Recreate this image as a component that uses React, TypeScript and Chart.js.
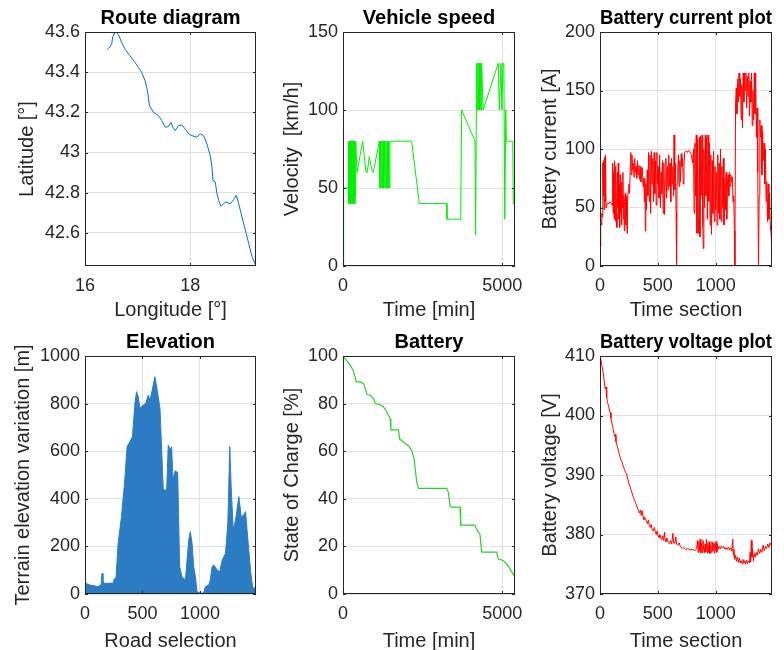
import React, { useEffect, useRef } from 'react';
import { Chart, registerables } from 'chart.js';

Chart.register(...registerables);

const FONT = "'Liberation Sans', Arial, Helvetica, sans-serif";
const AXIS_COLOR = '#262626';
const GRID_COLOR = '#e1e1e1';

// ---------- Route diagram ----------
const routeLon = [16.425, 16.476, 16.508, 16.527, 16.571, 16.59, 16.635, 16.698, 16.762, 16.857, 16.952, 17.016, 17.079, 17.143, 17.187, 17.225, 17.302, 17.397, 17.46, 17.524, 17.587, 17.632, 17.67, 17.714, 17.778, 17.841, 17.905, 17.968, 18.032, 18.127, 18.19, 18.254, 18.317, 18.381, 18.413, 18.432, 18.476, 18.508, 18.54, 18.584, 18.667, 18.762, 18.825, 18.876, 18.921, 18.984, 19.048, 19.111, 19.175, 19.25];
const routeLat = [43.514, 43.526, 43.542, 43.575, 43.598, 43.6, 43.588, 43.547, 43.514, 43.481, 43.448, 43.423, 43.398, 43.357, 43.307, 43.233, 43.2, 43.183, 43.159, 43.126, 43.129, 43.15, 43.126, 43.109, 43.134, 43.137, 43.117, 43.093, 43.084, 43.076, 43.093, 43.084, 43.043, 42.985, 42.927, 42.861, 42.853, 42.795, 42.762, 42.732, 42.754, 42.745, 42.765, 42.787, 42.745, 42.679, 42.613, 42.547, 42.481, 42.435];
const routeLonTicks = [16, 18];
const routeLatTicks = [42.6, 42.8, 43, 43.2, 43.4, 43.6];

// ---------- Vehicle speed ----------
const speedTime = [0, 20, 160, 175, 185, 195, 205, 215, 225, 235, 245, 255, 265, 280, 290, 305, 315, 330, 340, 355, 370, 377, 400, 440, 470, 618, 722, 760, 826, 900, 951, 1140, 1160, 1180, 1200, 1220, 1240, 1260, 1280, 1300, 1320, 1345, 1365, 1390, 1410, 1435, 1455, 1475, 2155, 2396, 3255, 3265, 3694, 3725, 4143, 4164, 4195, 4215, 4235, 4255, 4275, 4295, 4315, 4335, 4353, 4400, 4875, 4907, 4960, 4990, 5020, 5050, 5080, 5110, 5130, 5330, 5345, 5400];
const speedValues = [0, 50, 50, 80, 40, 80, 40, 80, 45, 80, 40, 80, 40, 80, 40, 80, 40, 80, 40, 80, 40, 45, 80, 60, 60, 80, 60, 60, 70, 62, 60, 80, 50, 80, 50, 80, 50, 80, 50, 80, 50, 80, 50, 80, 50, 80, 50, 80, 80, 40, 40, 30, 30, 100, 80, 20, 130, 100, 130, 100, 130, 100, 130, 100, 130, 100, 130, 100, 130, 100, 130, 130, 30, 100, 80, 80, 40, 40];
const timeTicks = [0, 5000];
const speedTicks = [0, 50, 100, 150];

// ---------- Battery current ----------
const currentSection = [
  0, 4, 8, 12, 16, 20, 24, 28, 32, 36,
  40, 44, 48, 52, 58, 66, 76, 86, 96, 104,
  110, 114, 118, 122, 126, 130, 134, 138, 142, 146,
  150, 154, 158, 162, 166, 170, 174, 178, 182, 186,
  190, 194, 198, 202, 206, 210, 214, 218, 222, 226,
  230, 234, 238, 244, 250, 256, 262, 266, 270, 276,
  282, 288, 294, 300, 306, 312, 318, 324, 330, 336,
  342, 348, 354, 360, 366, 372, 378, 384, 388, 392,
  396, 402, 408, 414, 420, 426, 432, 438, 444, 450,
  456, 462, 468, 474, 480, 486, 492, 498, 504, 510,
  516, 522, 528, 534, 540, 546, 552, 558, 564, 570,
  576, 582, 588, 594, 600, 606, 612, 618, 624, 630,
  636, 640, 646, 652, 658, 662, 666, 672, 678, 684,
  690, 696, 702, 708, 714, 720, 726, 732, 740, 748,
  756, 764, 772, 780, 790, 800, 808, 814, 820, 826,
  832, 838, 842, 848, 853, 858, 864, 870, 876, 882,
  888, 893, 898, 904, 910, 916, 922, 928, 934, 940,
  946, 952, 958, 964, 970, 976, 982, 988, 994, 1000,
  1006, 1012, 1018, 1024, 1030, 1036, 1042, 1048, 1054, 1060,
  1066, 1072, 1078, 1084, 1090, 1096, 1102, 1108, 1114, 1120,
  1126, 1132, 1138, 1144, 1150, 1156, 1162, 1166, 1172, 1178,
  1184, 1190, 1196, 1202, 1208, 1214, 1220, 1226, 1232, 1238,
  1244, 1250, 1256, 1262, 1268, 1274, 1280, 1286, 1292, 1298,
  1304, 1310, 1316, 1322, 1328, 1334, 1340, 1346, 1352, 1358,
  1364, 1370, 1376, 1382, 1388, 1394, 1400, 1406, 1412, 1418,
  1424, 1430, 1436, 1442, 1448, 1454, 1460, 1466, 1472, 1478,
  1484,
];
const currentValues = [
  40, 17, 38, 35, 45, 42, 88, 60, 90, 48,
  93, 55, 95, 50, 52, 54, 53, 55, 54, 52,
  88, 45, 80, 40, 90, 55, 38, 85, 45, 33,
  80, 50, 88, 40, 70, 33, 78, 45, 62, 35,
  72, 50, 80, 40, 60, 30, 55, 62, 35, 60,
  45, 28, 55, 65, 70, 62, 85, 97, 78, 95,
  82, 88, 76, 92, 80, 85, 75, 90, 78, 86,
  74, 85, 72, 80, 84, 68, 75, 55, 75, 30,
  70, 48, 82, 60, 97, 55, 95, 45, 98, 70,
  92, 55, 97, 62, 90, 52, 97, 70, 85, 58,
  95, 50, 80, 62, 90, 45, 88, 44, 75, 92,
  58, 85, 65, 95, 68, 88, 55, 92, 70, 85,
  60, 112, 65, 88, 45, 0, 70, 82, 95, 68,
  90, 72, 96, 85, 92, 70, 85, 97, 98, 98,
  97, 99, 98, 97, 95, 88, 100, 45, 105, 60,
  112, 28, 108, 40, 28, 110, 25, 111, 60, 112,
  35, 15, 100, 50, 112, 60, 110, 40, 112, 55,
  105, 35, 95, 27, 90, 45, 98, 38, 85, 48,
  80, 35, 95, 45, 88, 40, 100, 38, 85, 50,
  92, 35, 75, 48, 80, 40, 70, 78, 60, 80,
  68, 78, 72, 76, 55, 60, 30, 0, 140, 152,
  130, 160, 140, 165, 145, 160, 125, 155, 118, 165,
  140, 165, 150, 165, 135, 162, 145, 165, 128, 158,
  140, 165, 120, 150, 125, 165, 130, 165, 110, 135,
  80, 0, 60, 125, 110, 120, 78, 115, 90, 105,
  70, 100, 55, 72, 38, 70, 40, 62, 35, 30,
  17,
];
const sectionTicks = [0, 500, 1000];
const currentTicks = [0, 50, 100, 150, 200];

// ---------- Elevation ----------
const elevSection = [0, 6, 40, 80, 113, 140, 148, 156, 163, 200, 244, 250, 270, 288, 317, 346, 366, 390, 413, 434, 448, 463, 477, 506, 529, 550, 564, 579, 593, 608, 628, 652, 681, 710, 724, 742, 753, 765, 785, 806, 823, 843, 873, 902, 916, 931, 945, 960, 974, 1003, 1033, 1047, 1076, 1090, 1105, 1120, 1149, 1172, 1193, 1222, 1242, 1259, 1271, 1289, 1309, 1338, 1358, 1382, 1396, 1419, 1442, 1457, 1472, 1487];
const elevValues = [40, 45, 38, 35, 30, 40, 87, 60, 45, 45, 46, 60, 70, 213, 325, 479, 619, 640, 661, 801, 850, 829, 780, 794, 801, 836, 815, 843, 878, 913, 857, 780, 437, 437, 626, 605, 619, 483, 518, 510, 115, 73, 59, 227, 262, 213, 115, 73, 10, 3, 5, 31, 38, 60, 115, 122, 101, 94, 143, 171, 297, 619, 451, 269, 311, 409, 325, 332, 346, 213, 87, 31, 17, 45];
const elevTicks = [0, 200, 400, 600, 800, 1000];

// ---------- Battery SOC ----------
const socTime = [0, 104, 230, 334, 418, 543, 647, 699, 752, 856, 960, 1013, 1169, 1273, 1378, 1482, 1503, 1743, 1775, 1900, 2056, 2161, 2234, 2317, 2370, 3257, 3309, 3361, 3413, 3674, 3695, 4144, 4196, 4301, 4353, 4823, 4875, 5031, 5157, 5292, 5376];
const socValues = [99.7, 98.3, 96.2, 93.4, 89.1, 89.1, 88.4, 86.3, 83.8, 83.5, 82.1, 80.0, 79.5, 78.6, 76.4, 73.6, 69.0, 69.0, 65.2, 63.8, 62.3, 60.2, 56.7, 46.8, 44.4, 44.4, 42.6, 37.0, 36.5, 36.5, 28.9, 28.9, 27.1, 25.0, 17.6, 17.6, 14.7, 14.1, 12.3, 9.4, 7.6];
const socTicks = [0, 20, 40, 60, 80, 100];

// ---------- Battery voltage ----------
const voltSection = [
  0, 6, 15, 25, 35, 45, 52, 58, 65, 75,
  87, 95, 105, 115, 125, 132, 138, 150, 160, 170,
  180, 190, 200, 210, 220, 230, 240, 250, 260, 270,
  280, 290, 300, 310, 320, 330, 340, 350, 356, 364,
  372, 380, 390, 400, 410, 418, 426, 434, 442, 450,
  460, 470, 478, 486, 494, 502, 510, 518, 526, 534,
  542, 550, 558, 562, 570, 580, 590, 600, 610, 620,
  630, 636, 646, 656, 662, 672, 684, 696, 710, 724,
  740, 760, 780, 800, 820, 836, 842, 848, 854, 860,
  866, 872, 878, 884, 890, 896, 902, 908, 914, 920,
  926, 932, 938, 944, 950, 956, 962, 968, 974, 980,
  986, 992, 998, 1004, 1010, 1016, 1022, 1030, 1040, 1050,
  1060, 1070, 1080, 1090, 1100, 1110, 1120, 1130, 1140, 1148,
  1152, 1158, 1164, 1172, 1180, 1188, 1196, 1204, 1212, 1220,
  1228, 1236, 1244, 1252, 1260, 1268, 1276, 1284, 1292, 1298,
  1302, 1308, 1314, 1320, 1326, 1334, 1342, 1350, 1360, 1370,
  1380, 1390, 1400, 1410, 1420, 1430, 1440, 1450, 1460, 1470,
  1480, 1487,
];
const voltValues = [
  409, 409.5, 408.5, 407.5, 406, 404.5, 404.8, 403, 402.2, 401.5,
  400.5, 399.5, 398.5, 397.6, 396.5, 396.8, 395.6, 394.8, 394, 393.2,
  392.6, 392.2, 391.5, 391, 390.5, 390.2, 389.3, 388.6, 388, 387.4,
  386.8, 386.2, 385.7, 385.2, 384.6, 384.2, 383.6, 384.1, 383.2, 384,
  383, 382.5, 382.8, 382.3, 381.8, 382.4, 381.5, 381.2, 381.7, 380.9,
  380.6, 381.2, 380.4, 380, 380.6, 379.8, 379.5, 380, 379.3, 379.2,
  379.8, 379, 380.4, 379.2, 378.8, 379.4, 378.6, 378.5, 379, 378.4,
  380.2, 378.6, 378.5, 379.6, 378.4, 378.2, 378.6, 377.9, 377.7, 377.8,
  377.5, 377.6, 377.4, 377.5, 377.3, 377.6, 379, 377, 378.8, 377.2,
  379.2, 376.9, 378.5, 377, 379, 377.5, 376.9, 378.4, 377.1, 379.2,
  376.9, 378.6, 377, 378.8, 376.8, 378.2, 377, 378.8, 377.2, 378.6,
  376.9, 378.5, 377.3, 378.8, 377, 378.4, 377.5, 378, 377.6, 378.1,
  377.7, 378, 377.5, 377.8, 377.5, 377.9, 377.4, 377.8, 377.2, 379.2,
  376.5, 377.5, 375.8, 376.5, 375.5, 376.2, 375.3, 376, 375.2, 375.6,
  375.1, 375.8, 375.2, 375.6, 375, 375.7, 375.1, 375.5, 375.2, 377,
  375.4, 379, 376.2, 377.5, 375.5, 376.8, 376.2, 377, 376.5, 377.6,
  376.8, 377.5, 377, 378.2, 377.3, 378, 377.6, 378.4, 377.8, 378.6,
  378.2, 378.8,
];
const voltTicks = [370, 380, 390, 400, 410];

const zip = (xs: number[], ys: number[]) => xs.map((x, i) => ({ x, y: ys[i] }));
const fmt = (v: any) => String(Math.round(Number(v) * 1000) / 1000);

type Spec = {
  id: string;
  L: number; T: number; R: number; B: number;
  yW: number; xH: number; rightPad: number;
  title: string; xLabel: string; yLabel: string;
  xMin: number; xMax: number; yMin: number; yMax: number;
  xTicks: number[]; yTicks: number[];
  dataset: any;
};

const TITLE_H = 26;

const boxPlugin = {
  id: 'matlabBox',
  afterDatasetsDraw(chart: any) {
    const { ctx, chartArea } = chart;
    const left = Math.round(chartArea.left);
    const top = Math.round(chartArea.top);
    const right = Math.round(chartArea.right);
    const bottom = Math.round(chartArea.bottom);
    const xs = chart.scales.x;
    const ys = chart.scales.y;
    const TL = 3;
    ctx.save();
    ctx.strokeStyle = AXIS_COLOR;
    ctx.lineWidth = 1;
    ctx.beginPath();
    xs.ticks.forEach((t: any) => {
      const p = Math.round(xs.getPixelForValue(t.value)) + 0.5;
      ctx.moveTo(p, bottom);
      ctx.lineTo(p, bottom - TL);
      ctx.moveTo(p, top);
      ctx.lineTo(p, top + TL);
    });
    ys.ticks.forEach((t: any) => {
      const p = Math.round(ys.getPixelForValue(t.value)) + 0.5;
      ctx.moveTo(left, p);
      ctx.lineTo(left + TL, p);
      ctx.moveTo(right, p);
      ctx.lineTo(right - TL, p);
    });
    ctx.stroke();
    ctx.strokeRect(left + 0.5, top + 0.5, right - left - 1, bottom - top - 1);
    ctx.restore();
  },
};

function buildConfig(s: Spec): any {
  const tickFont = { family: FONT, size: 18 };
  const labelFont = { family: FONT, size: 20 };
  return {
    type: 'line',
    data: { datasets: [s.dataset] },
    plugins: [boxPlugin],
    options: {
      animation: false,
      responsive: false,
      devicePixelRatio: 1,
      layout: { padding: { left: 0, top: 0, bottom: 0, right: s.rightPad } },
      plugins: {
        legend: { display: false },
        tooltip: { enabled: false },
        title: {
          display: true,
          text: s.title,
          color: '#000000',
          fullSize: false,
          font: { family: FONT, size: 20, weight: 'bold', lineHeight: 1.2 },
          padding: { top: 0, bottom: 2 },
        },
      },
      elements: { point: { radius: 0 } },
      scales: {
        x: {
          type: 'linear',
          min: s.xMin,
          max: s.xMax,
          afterBuildTicks: (sc: any) => { sc.ticks = s.xTicks.map((v) => ({ value: v })); },
          afterFit: (sc: any) => { sc.height = s.xH; },
          grid: { color: GRID_COLOR, drawTicks: false, lineWidth: 1 },
          border: { display: false },
          ticks: { color: AXIS_COLOR, font: tickFont, padding: 9, maxRotation: 0, autoSkip: false, callback: fmt },
          title: { display: true, text: s.xLabel, color: AXIS_COLOR, font: labelFont, padding: 0 },
        },
        y: {
          type: 'linear',
          min: s.yMin,
          max: s.yMax,
          afterBuildTicks: (sc: any) => { sc.ticks = s.yTicks.map((v) => ({ value: v })); },
          afterFit: (sc: any) => { sc.width = s.yW; },
          grid: { color: GRID_COLOR, drawTicks: false, lineWidth: 1 },
          border: { display: false },
          ticks: { color: AXIS_COLOR, font: tickFont, padding: 5, autoSkip: false, callback: fmt },
          title: { display: true, text: s.yLabel, color: AXIS_COLOR, font: labelFont, padding: 0 },
        },
      },
    },
  };
}

function Panel({ spec }: { spec: Spec }) {
  const ref = useRef<HTMLCanvasElement>(null);
  const w = spec.yW + (spec.R - spec.L) + spec.rightPad;
  const h = TITLE_H + (spec.B - spec.T) + spec.xH;
  useEffect(() => {
    const chart = new Chart(ref.current as HTMLCanvasElement, buildConfig(spec));
    return () => chart.destroy();
  }, []);
  return (
    <canvas
      ref={ref}
      width={w}
      height={h}
      style={{ position: 'absolute', left: spec.L - spec.yW, top: spec.T - TITLE_H, width: w, height: h }}
    />
  );
}

const lineDs = (data: any[], color: string, width = 1) => ({
  data,
  borderColor: color,
  backgroundColor: color,
  borderWidth: width,
  pointRadius: 0,
  tension: 0,
  fill: false,
});

const specs: Spec[] = [
  {
    id: 'route', L: 85, T: 32, R: 256, B: 266, yW: 70, xH: 56, rightPad: 20,
    title: 'Route diagram', xLabel: 'Longitude [°]', yLabel: 'Latitude [°]',
    xMin: 16, xMax: 19.25, yMin: 42.435, yMax: 43.6,
    xTicks: routeLonTicks, yTicks: routeLatTicks,
    dataset: lineDs(zip(routeLon, routeLat), '#0072BD', 1),
  },
  {
    id: 'speed', L: 343, T: 32, R: 515, B: 266, yW: 63, xH: 56, rightPad: 20,
    title: 'Vehicle speed', xLabel: 'Time [min]', yLabel: 'Velocity  [km/h]',
    xMin: 0, xMax: 5400, yMin: 0, yMax: 150,
    xTicks: timeTicks, yTicks: speedTicks,
    dataset: lineDs(zip(speedTime, speedValues), '#00ee00', 1),
  },
  {
    id: 'current', L: 600, T: 32, R: 772, B: 266, yW: 62, xH: 56, rightPad: 12,
    title: 'Battery current plot', xLabel: 'Time section', yLabel: 'Battery current [A]',
    xMin: 0, xMax: 1487, yMin: 0, yMax: 200,
    xTicks: sectionTicks, yTicks: currentTicks,
    dataset: lineDs(zip(currentSection, currentValues), '#ff0000', 1),
  },
  {
    id: 'elev', L: 85, T: 356, R: 256, B: 594, yW: 74, xH: 59, rightPad: 20,
    title: 'Elevation', xLabel: 'Road selection', yLabel: 'Terrain elevation variation [m]',
    xMin: 0, xMax: 1487, yMin: 0, yMax: 1000,
    xTicks: sectionTicks, yTicks: elevTicks,
    dataset: {
      data: zip(elevSection, elevValues),
      borderColor: '#2b7cc2',
      backgroundColor: '#2b7cc2',
      borderWidth: 1,
      pointRadius: 0,
      tension: 0,
      fill: 'origin',
    },
  },
  {
    id: 'soc', L: 343, T: 356, R: 515, B: 594, yW: 63, xH: 59, rightPad: 20,
    title: 'Battery', xLabel: 'Time [min]', yLabel: 'State of Charge [%]',
    xMin: 0, xMax: 5400, yMin: 0, yMax: 100,
    xTicks: timeTicks, yTicks: socTicks,
    dataset: lineDs(zip(socTime, socValues), '#2ad02a', 1.2),
  },
  {
    id: 'volt', L: 600, T: 356, R: 772, B: 594, yW: 62, xH: 59, rightPad: 12,
    title: 'Battery voltage plot', xLabel: 'Time section', yLabel: 'Battery voltage [V]',
    xMin: 0, xMax: 1487, yMin: 370, yMax: 410,
    xTicks: sectionTicks, yTicks: voltTicks,
    dataset: lineDs(zip(voltSection, voltValues), '#ff0000', 1),
  },
];

export default function App() {
  return (
    <div style={{ position: 'fixed', left: 0, top: 0, width: 784, height: 650, background: '#ffffff', overflow: 'hidden' }}>
      {specs.map((s) => (
        <Panel key={s.id} spec={s} />
      ))}
    </div>
  );
}
